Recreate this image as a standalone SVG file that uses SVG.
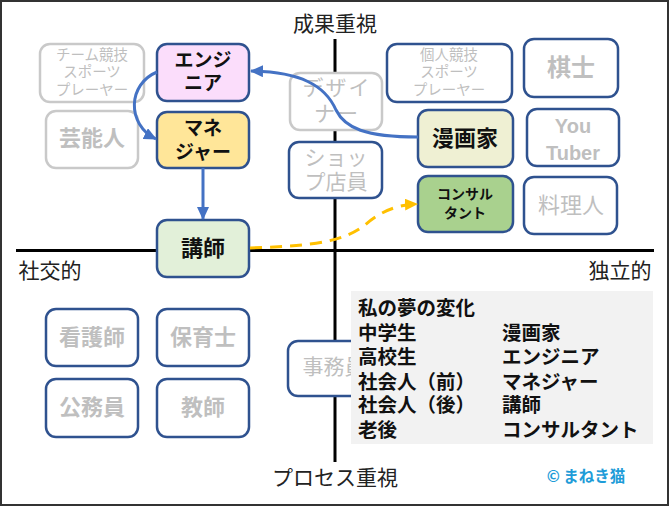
<svg xmlns="http://www.w3.org/2000/svg" width="670" height="507" viewBox="0 0 670 507">
<defs>
<style>
text{font-family:"Noto Sans CJK JP","Noto Sans",sans-serif;text-anchor:middle}
.box{stroke:#2F528F;stroke-width:2.5;fill:#fff}
.gbox{stroke:#C9C9C9;stroke-width:2.5;fill:#fff}
.gt{fill:#BFBFBF}
.bt{fill:#111;font-weight:bold}
.ax{fill:#222;font-size:21px}
.axis{stroke:#000;stroke-width:3}
.blue{stroke:#4472C4;stroke-width:3;fill:none}
.lg{fill:#111;font-weight:bold;font-size:19.5px;text-anchor:start}
</style>
<marker id="ab" markerUnits="userSpaceOnUse" markerWidth="14" markerHeight="12" refX="12" refY="6" orient="auto">
<path d="M0,0 L13,6 L0,12 Z" fill="#4472C4"/>
</marker>
<marker id="ay" markerUnits="userSpaceOnUse" markerWidth="14" markerHeight="12" refX="12" refY="6" orient="auto">
<path d="M0,0 L13,6 L0,12 Z" fill="#FFC000"/>
</marker>
</defs>
<rect x="1" y="1" width="667" height="504" fill="#fff" stroke="#333" stroke-width="2"/>
<g id="axes">
<line class="axis" x1="335" y1="39" x2="335" y2="462"/>
<line class="axis" x1="16" y1="250.5" x2="654" y2="250.5"/>
<text class="ax" x="335" y="31">成果重視</text>
<text class="ax" x="335" y="485">プロセス重視</text>
<text class="ax" x="50" y="278">社交的</text>
<text class="ax" x="620" y="278">独立的</text>
</g>
<g id="n-team"><rect class="gbox" x="40" y="44" width="104" height="58" rx="10"/>
<text class="gt" font-size="14.5"><tspan x="92" y="60">チーム競技</tspan><tspan x="92" y="77">スポーツ</tspan><tspan x="92" y="95">プレーヤー</tspan></text></g>
<g id="n-geinou"><rect class="gbox" x="46" y="111" width="92" height="57" rx="10"/>
<text class="gt" font-size="22" font-weight="bold" x="92" y="146">芸能人</text></g>
<g id="n-engineer"><rect class="box" x="157" y="44" width="92" height="57" rx="10" style="fill:#FBDDFB"/>
<text class="bt" font-size="19"><tspan x="203" y="67">エンジ</tspan><tspan x="203" y="90">ニア</tspan></text></g>
<g id="n-manager"><rect class="box" x="157" y="112" width="92" height="56" rx="10" style="fill:#FFE699"/>
<text class="bt" font-size="19"><tspan x="203" y="135">マネ</tspan><tspan x="203" y="159">ジャー</tspan></text></g>
<g id="n-koushi"><rect class="box" x="157" y="220" width="92" height="57" rx="10" style="fill:#E2F0D9"/>
<text class="bt" font-size="22" x="203" y="256">講師</text></g>
<g id="n-designer"><rect class="gbox" x="290" y="73" width="92" height="57" rx="10"/>
<text class="gt" font-size="21" letter-spacing="2"><tspan x="337" y="95">デザイ</tspan><tspan x="337" y="121">ナー</tspan></text></g>
<g id="n-shop"><rect class="box" x="289" y="142" width="93" height="56" rx="10"/>
<text class="gt" font-size="21"><tspan x="336" y="165">ショッ</tspan><tspan x="336" y="189">プ店員</tspan></text></g>
<g id="n-jimu"><rect class="box" x="288" y="341" width="92" height="55" rx="10"/>
<text class="gt" font-size="21" x="334" y="374">事務員</text></g>
<g id="n-kojin"><rect class="box" x="387" y="44" width="125" height="58" rx="10"/>
<text class="gt" font-size="14.5"><tspan x="449" y="60">個人競技</tspan><tspan x="449" y="77">スポーツ</tspan><tspan x="449" y="95">プレーヤー</tspan></text></g>
<g id="n-kishi"><rect class="box" x="524" y="39" width="94" height="58" rx="10"/>
<text class="gt" font-size="24" font-weight="bold" x="571" y="76">棋士</text></g>
<g id="n-manga"><rect class="box" x="418" y="110" width="95" height="57" rx="10" style="fill:#EFF0D3"/>
<text class="bt" font-size="22" x="465" y="146">漫画家</text></g>
<g id="n-youtuber"><rect class="box" x="527" y="109" width="92" height="57" rx="10"/>
<text class="gt" font-size="20" font-weight="bold" style="font-family:'Liberation Sans',sans-serif"><tspan x="573" y="133">You</tspan><tspan x="573" y="160">Tuber</tspan></text></g>
<g id="n-consul"><rect class="box" x="418" y="176" width="95" height="56" rx="10" style="fill:#A9D18E"/>
<text class="bt" font-size="14"><tspan x="465" y="199">コンサル</tspan><tspan x="465" y="218">タント</tspan></text></g>
<g id="n-ryouri"><rect class="box" x="524" y="177" width="93" height="57" rx="10"/>
<text class="gt" font-size="22" x="571" y="213">料理人</text></g>
<g id="n-kango"><rect class="box" x="46" y="309" width="92" height="57" rx="10"/>
<text class="gt" font-size="22" font-weight="bold" x="92" y="345">看護師</text></g>
<g id="n-hoiku"><rect class="box" x="157" y="309" width="92" height="57" rx="10"/>
<text class="gt" font-size="22" font-weight="bold" x="203" y="345">保育士</text></g>
<g id="n-koumu"><rect class="box" x="46" y="379" width="92" height="58" rx="10"/>
<text class="gt" font-size="22" font-weight="bold" x="92" y="415">公務員</text></g>
<g id="n-kyoushi"><rect class="box" x="157" y="379" width="92" height="58" rx="10"/>
<text class="gt" font-size="22" font-weight="bold" x="203" y="415">教師</text></g>
<g id="connectors">
<path class="blue" d="M418,137 C365,137 345,128 336,110 C325,85 300,72 251,71" marker-end="url(#ab)"/>
<path class="blue" d="M157,72 C128,84 126,124 156,139" marker-end="url(#ab)"/>
<path class="blue" d="M203,168 L203,219" marker-end="url(#ab)"/>
<path d="M250,248 C320,246 345,240 365,225 C380,212 395,205 417,204" fill="none" stroke="#FFC000" stroke-width="3" stroke-dasharray="12,8" marker-end="url(#ay)"/>
</g>
<g id="legend">
<rect x="351" y="291" width="302" height="153" fill="#F2F2F2"/>
<text class="lg"><tspan x="358" y="315">私の夢の変化</tspan><tspan x="358" y="340">中学生</tspan><tspan x="502" y="340">漫画家</tspan><tspan x="358" y="364">高校生</tspan><tspan x="502" y="364">エンジニア</tspan><tspan x="358" y="389">社会人（前）</tspan><tspan x="502" y="389">マネジャー</tspan><tspan x="358" y="412">社会人（後）</tspan><tspan x="502" y="412">講師</tspan><tspan x="358" y="437">老後</tspan><tspan x="502" y="437">コンサルタント</tspan></text>
</g>
<text x="586" y="482" font-size="15.5" font-weight="bold" fill="#1E9CD8">© まねき猫</text>
</svg>
